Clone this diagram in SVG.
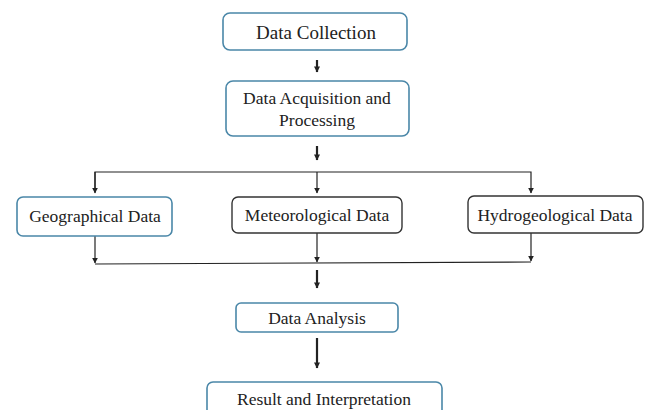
<svg xmlns="http://www.w3.org/2000/svg" width="645" height="410" viewBox="0 0 645 410">
<style>
.blue{fill:#fff;stroke:#4a87a8;stroke-width:1.6}
.dark{fill:#fff;stroke:#333;stroke-width:1.4}
text{font-family:"Liberation Serif","Times New Roman",serif;font-size:17.5px;fill:#222;text-anchor:middle}
.ln{stroke:#222;stroke-width:1.2;fill:none}
.thick{stroke:#222;stroke-width:2.2;fill:none}
</style>
<defs>
<marker id="sm" viewBox="0 0 10 10" refX="9" refY="5" markerWidth="6" markerHeight="6" orient="auto" markerUnits="userSpaceOnUse"><path d="M0,0L10,5L0,10z" fill="#222"/></marker>
<marker id="big" viewBox="0 0 10 10" refX="9" refY="5" markerWidth="7" markerHeight="6" orient="auto" markerUnits="userSpaceOnUse"><path d="M0,0L10,5L0,10z" fill="#222"/></marker>
</defs>
<g id="connectors">
<line class="thick" x1="317" y1="60" x2="317" y2="72" marker-end="url(#big)"/>
<line class="thick" x1="317" y1="146" x2="317" y2="160" marker-end="url(#big)"/>
<polyline class="ln" points="95,192 95,172 531,172 531,193" marker-end="url(#sm)"/>
<line class="ln" x1="95" y1="172" x2="95" y2="193" marker-end="url(#sm)"/>
<line class="ln" x1="317" y1="172" x2="317" y2="193" marker-end="url(#sm)"/>
<line class="ln" x1="95" y1="236" x2="95" y2="263" marker-end="url(#sm)"/>
<line class="ln" x1="317" y1="233" x2="317" y2="262" marker-end="url(#sm)"/>
<line class="ln" x1="531" y1="233" x2="531" y2="261" marker-end="url(#sm)"/>
<line class="ln" x1="95" y1="264" x2="531" y2="262"/>
<line class="thick" x1="317" y1="270" x2="317" y2="288" marker-end="url(#big)"/>
<line class="thick" x1="317" y1="338" x2="317" y2="368" marker-end="url(#big)"/>
<path d="M90,234L93,230L95,234z" fill="#3a7fa5"/>
</g>
<g id="data-collection">
<rect class="blue" x="223" y="13" width="184" height="37" rx="7"/>
<text x="316" y="39" style="font-size:19px">Data Collection</text>
</g>
<g id="data-acquisition">
<rect class="blue" x="226" y="81" width="183" height="55" rx="7"/>
<text x="317" y="104">Data Acquisition and</text>
<text x="317" y="126">Processing</text>
</g>
<g id="geographical">
<rect class="blue" x="17" y="197" width="155" height="39" rx="6"/>
<text x="95" y="222">Geographical Data</text>
</g>
<g id="meteorological">
<rect class="dark" x="232" y="197" width="170" height="36" rx="6"/>
<text x="317" y="221">Meteorological Data</text>
</g>
<g id="hydrogeological">
<rect class="dark" x="468" y="196" width="175" height="37" rx="6"/>
<text x="555" y="221">Hydrogeological Data</text>
</g>
<g id="data-analysis">
<rect class="blue" x="236" y="303" width="162" height="29" rx="5"/>
<text x="317" y="324">Data Analysis</text>
</g>
<g id="result">
<rect class="blue" x="207" y="382" width="235" height="40" rx="6"/>
<text x="324" y="405">Result and Interpretation</text>
</g>
</svg>
